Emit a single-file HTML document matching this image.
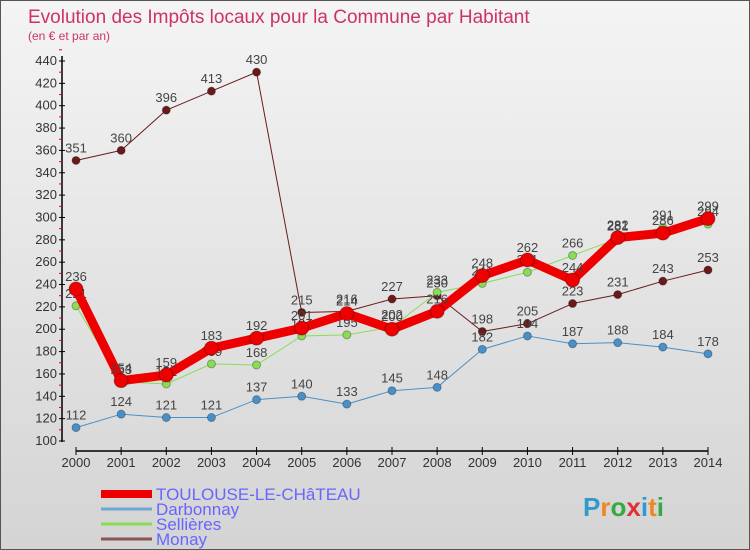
<!DOCTYPE html>
<html><head><meta charset="utf-8"><style>
body{margin:0}
#c{width:750px;height:550px;position:relative;background:linear-gradient(#f4f4f4,#d4d4d4);border:1px solid #555;box-sizing:border-box;overflow:hidden;font-family:"Liberation Sans",sans-serif}
</style></head><body>
<div id="c">
<svg id="s" width="750" height="550"></svg>
</div>
<script>
const years=["2000","2001","2002","2003","2004","2005","2006","2007","2008","2009","2010","2011","2012","2013","2014"];
const toulouse=[236,154,159,183,192,201,214,200,216,248,262,244,282,286,299];
const darbonnay=[112,124,121,121,137,140,133,145,148,182,194,187,188,184,178];
const sellieres=[221,153,151,169,168,194,195,202,233,241,251,266,281,291,294];
const monay=[351,360,396,413,430,215,216,227,230,198,205,223,231,243,253];
const yTicks=[100,120,140,160,180,200,220,240,260,280,300,320,340,360,380,400,420,440];
const seriesNames=["TOULOUSE-LE-CHâTEAU","Darbonnay","Sellières","Monay"];
const NS="http://www.w3.org/2000/svg";
const s=document.getElementById('s');
function X(i){return 75+i*(707-75)/(years.length-1);}
function Y(v){return 440-(v-100)*380/340;}
function el(t,a,p){const e=document.createElementNS(NS,t);for(const k in a)e.setAttribute(k,a[k]);(p||s).appendChild(e);return e;}
let t=el('text',{x:27,y:22,'font-size':19,fill:'#cc3366'});t.textContent="Evolution des Impôts locaux pour la Commune par Habitant";

t=el('text',{x:27,y:39,'font-size':12,fill:'#cc3366'});t.textContent="(en € et par an)";

let a=el('line',{x1:61,y1:55,x2:61,y2:441,stroke:'#000','stroke-width':1.5});

a=el('line',{x1:75,y1:450,x2:707,y2:450,stroke:'#000','stroke-width':1.5});

yTicks.forEach(v=>{el('line',{x1:58,y1:Y(v),x2:64,y2:Y(v),stroke:'#000'});
 el('line',{x1:58,y1:Y(v+10),x2:61,y2:Y(v+10),stroke:'#e00'});
 const tt=el('text',{x:56,y:Y(v)+4,'font-size':13,fill:'#333','text-anchor':'end'});tt.textContent=v;
 });
years.forEach((y,i)=>{el('line',{x1:X(i),y1:446,x2:X(i),y2:454,stroke:'#000'});
 const tt=el('text',{x:X(i),y:466,'font-size':13,fill:'#333','text-anchor':'middle'});tt.textContent=y;
 });
function series(d,color,w,r,name){
 const g=el('g',{});
 el('polyline',{points:d.map((v,i)=>X(i)+','+Y(v)).join(' '),fill:'none',stroke:color,'stroke-width':w,'stroke-linejoin':'round'},g);
 d.forEach((v,i)=>{const c=el('circle',{cx:X(i),cy:Y(v),r:r,fill:color,stroke:'rgba(0,0,0,0.3)'},g);
  
  const tt=el('text',{x:X(i),y:Y(v)-8,'font-size':13,fill:'#444','text-anchor':'middle'},g);tt.textContent=v;});
}
series(monay,'#6b1a1a',1,4,'series-monay');
series(darbonnay,'#4a90c8',1,4,'series-darbonnay');
series(sellieres,'#88dd55',1,4,'series-sellieres');
series(toulouse,'#ee0000',9,7,'series-toulouse');
const lc=['#ee0000','#6fa8d0','#88dd55','#8b5555'],lw=[8,3,3,3];
seriesNames.forEach((n,i)=>{const y=493+i*15;
 const g=el('g',{});
 el('line',{x1:100,y1:y,x2:151,y2:y,stroke:lc[i],'stroke-width':lw[i]},g);
 const tt=el('text',{x:155,y:y+6,'font-size':17,fill:'#6666ff'},g);tt.textContent=n;});
t=el('text',{x:582,y:515,'font-size':26,'font-weight':'bold'});

const logoCols=['#3399cc','#ee8822','#33aa44','#dd3333','#3399cc','#ee8822','#33aa44'];
"Proxiti".split('').forEach((ch,i)=>{const sp=el('tspan',{fill:logoCols[i]},t);sp.textContent=ch;});
</script>
</body></html>
